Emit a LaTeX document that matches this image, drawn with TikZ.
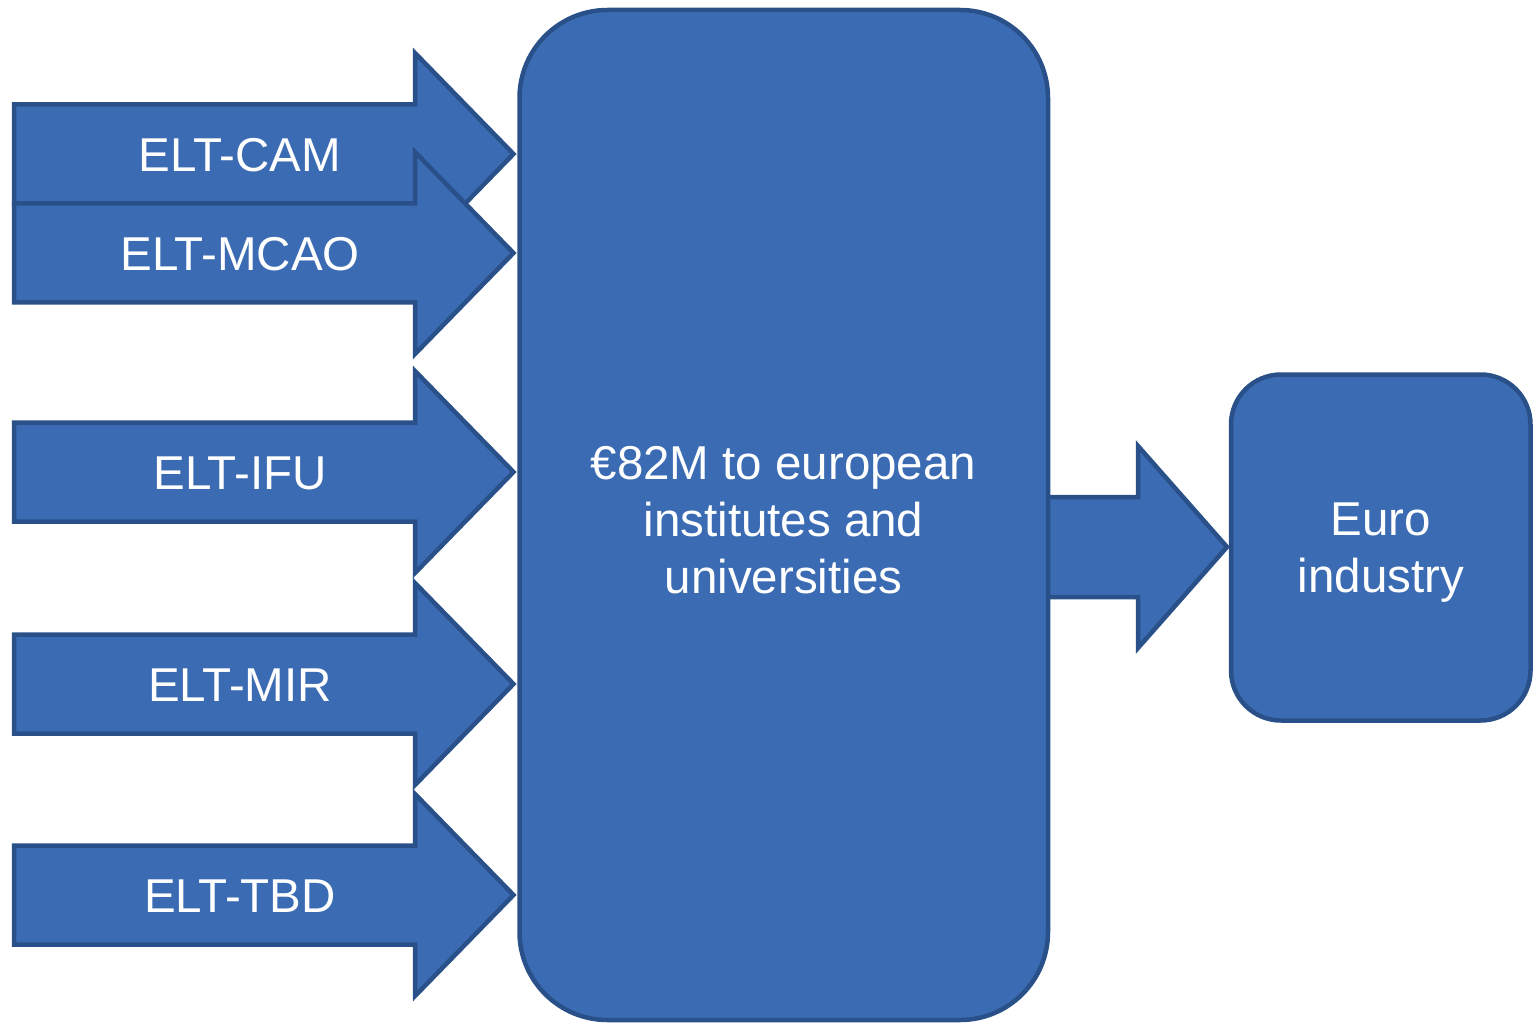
\documentclass[tikz,border=0pt]{standalone}
\usepackage{fontspec}
\setmainfont{Liberation Sans}
\definecolor{boxfill}{RGB}{59,108,179}
\definecolor{boxline}{RGB}{41,80,136}
\newcommand\inarrow[3]{%
  \draw[shapestyle] (14,#2-49.5) -- (415,#2-49.5) -- (415,#2-101) -- (513.5,#2)
     -- (415,#2+101) -- (415,#2+49.5) -- (14,#2+49.5) -- cycle;
  \node[lbl, anchor=base] (#1) at (240,#2+17.5) {#3};}
\begin{document}
\begin{tikzpicture}[x=1pt,y=-1pt,
  shapestyle/.style={fill=boxfill,draw=boxline,line width=4.5pt,line join=miter},
  lbl/.style={text=white,font=\fontsize{47.5}{57}\selectfont,inner sep=0pt,align=center}]
\useasboundingbox (0,0) rectangle (1534,1024);
\inarrow{cam}{154}{ELT-CAM}
\inarrow{mcao}{253}{ELT-MCAO}
\inarrow{ifu}{472}{ELT-IFU}
\inarrow{mir}{684}{ELT-MIR}
\inarrow{tbd}{895}{ELT-TBD}
% right arrow
\draw[shapestyle] (1046,497) -- (1138,497) -- (1138,446) -- (1227,547)
   -- (1138,648) -- (1138,597) -- (1046,597) -- cycle;
\node[shapestyle, rounded corners=88pt, minimum width=528.5pt, minimum height=1010pt]
  (main) at (783.75,515) {};
\node[lbl] (maintext) at (783.5,520) {€82M to european\\institutes and\\universities};
\node[shapestyle, rounded corners=50pt, minimum width=299.5pt, minimum height=346pt]
  (euro) at (1380.75,547.5) {};
\node[lbl] (eurotext) at (1381,553) {Euro\\industry};
\end{tikzpicture}
\end{document}
